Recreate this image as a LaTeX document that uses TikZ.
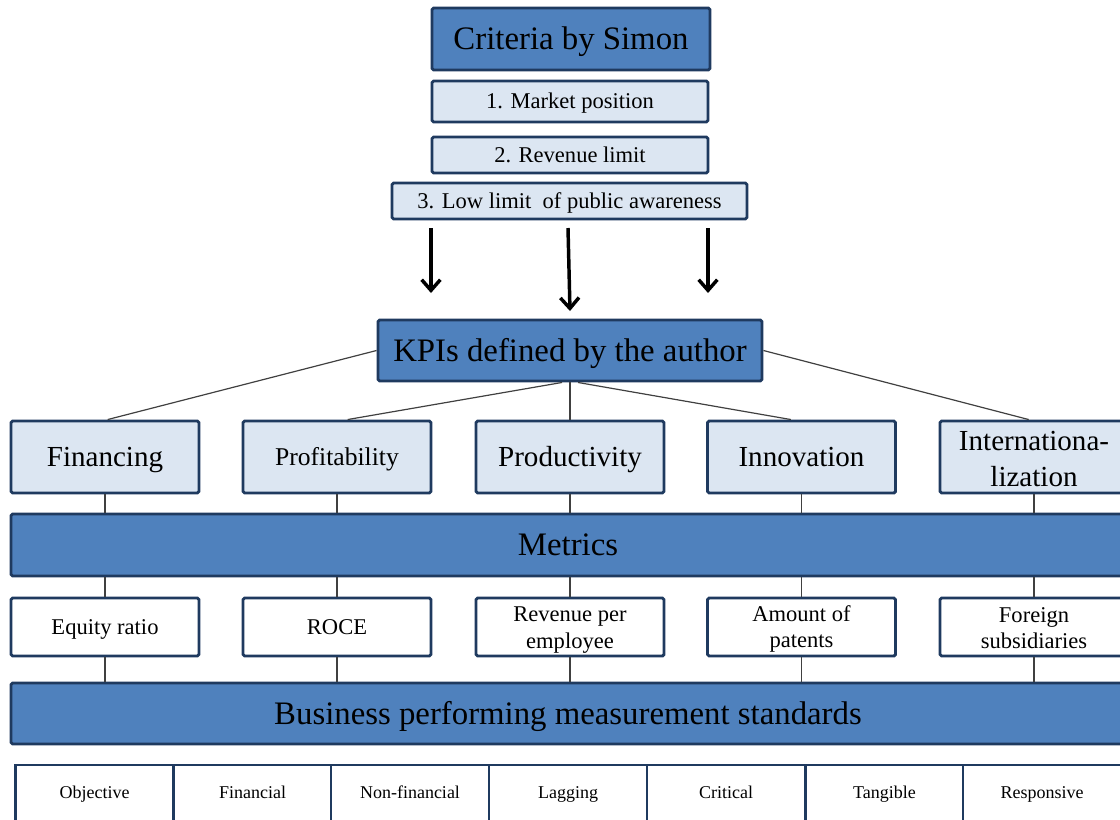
\documentclass[tikz,border=0pt]{standalone}
\usepackage{fontspec}
\setmainfont{Liberation Serif}
\usetikzlibrary{arrows.meta}
\definecolor{barblue}{HTML}{4F81BD}
\definecolor{paleblue}{HTML}{DCE6F2}
\definecolor{edgenavy}{HTML}{1F3A5F}
\definecolor{linkgray}{HTML}{404040}
\newcommand{\fsz}[2]{\fontsize{#1}{#2}\selectfont}

\begin{document}
\begin{tikzpicture}[x=0.75pt,y=-0.75pt,
  box/.style={draw=edgenavy, line width=2.2pt, rounded corners=1.2pt, inner sep=0pt, align=center, text=black},
  oneline/.style={text height=#1, text depth=0pt},
  darkbox/.style={box, fill=barblue, font=\fsz{24.6pt}{29pt}, oneline=16.2pt},
  palebox/.style={box, fill=paleblue},
  plainbox/.style={box, fill=white},
  kpibox/.style={palebox, minimum width=141pt, minimum height=54pt, font=\fsz{21.8pt}{27pt}},
  kpitext/.style={inner sep=0pt, align=center, font=\fsz{21.8pt}{27pt}},
  metricbox/.style={plainbox, minimum width=141pt, minimum height=43.5pt, font=\fsz{16.9pt}{20pt}},
  metrictext/.style={inner sep=0pt, align=center, font=\fsz{16.9pt}{20pt}},
  critbox/.style={palebox, oneline=11.2pt, minimum height=27pt, font=\fsz{16.9pt}{20pt}},
  cellbox/.style={plainbox, oneline=8.9pt, rounded corners=0pt, minimum width=118.5pt, minimum height=42pt, font=\fsz{13.5pt}{16pt}},
  link/.style={draw=linkgray, line width=0.9pt},
  flow/.style={draw=black, line width=2.6pt, -{Straight Barb[length=8pt,width=14pt]}},
]
\useasboundingbox (0,0) rectangle (1120,819);
\clip (0,0) rectangle (1120,819);

% criteria block
\node[darkbox, minimum width=208.5pt, minimum height=46.5pt] (crit) at (571,39) {Criteria by Simon};
\node[critbox, minimum width=207pt, minimum height=30.75pt] (c1) at (570,101.5) {1. Market position};
\node[critbox, minimum width=207pt] (c2) at (570,155) {2. Revenue limit};
\node[critbox, minimum width=266.25pt] (c3) at (569.5,201) {3. Low limit\ \ of public awareness};

% arrows towards the KPI box
\coordinate (a1s) at (431,228); \coordinate (a1e) at (431,293);
\coordinate (a2s) at (568,228); \coordinate (a2e) at (570,311);
\coordinate (a3s) at (708,228); \coordinate (a3e) at (708,293);
\draw[flow] (a1s) -- (a1e);
\draw[flow] (a2s) -- (a2e);
\draw[flow] (a3s) -- (a3e);

\node[darkbox, minimum width=288pt, minimum height=45.75pt] (kpi) at (570,350.5) {KPIs defined by the author};

% KPI categories
\node[kpibox, oneline=14.4pt] (fin) at (105,457) {Financing};
\node[kpibox, oneline=12.7pt, font=\fsz{19.2pt}{24pt}] (prof) at (337,457) {Profitability};
\node[kpibox, oneline=14.4pt] (prod) at (570,457) {Productivity};
\node[kpibox, oneline=14.4pt] (inno) at (801.5,457) {Innovation};
\node[kpibox] (intl) at (1034,457) {};
\node[kpitext] (intlt) at (1034,459) {Internationa-\\lization};

\node[darkbox, minimum width=835.5pt, minimum height=46.5pt] (metrics) at (568,545) {Metrics};

% metrics
\node[metricbox, oneline=11.2pt] (m1) at (105,627) {Equity ratio};
\node[metricbox, oneline=11.2pt] (m2) at (337,627) {ROCE};
\node[metricbox] (m3) at (570,627) {};
\node[metricbox] (m4) at (801.5,627) {};
\node[metricbox] (m5) at (1034,627) {};
\node[metrictext] (m3t) at (570,630) {Revenue per\\employee};
\node[metrictext] (m4t) at (801.5,629) {Amount of\\patents};
\node[metrictext] (m5t) at (1034,628) {Foreign\\subsidiaries};

\node[darkbox, minimum width=835.5pt, minimum height=45.75pt] (bps) at (568,713.5) {Business performing measurement standards};

% measurement standards row
\node[cellbox] (s1) at (94.5,793) {Objective};
\node[cellbox] (s2) at (252.5,793) {Financial};
\node[cellbox] (s3) at (410,793) {Non-financial};
\node[cellbox] (s4) at (568,793) {Lagging};
\node[cellbox] (s5) at (726,793) {Critical};
\node[cellbox] (s6) at (884.5,793) {Tangible};
\node[cellbox] (s7) at (1042,793) {Responsive};

% tree links from the KPI box
\draw[link] (kpi.west) -- ([xshift=2pt]fin.north);
\draw[link] ([xshift=-6pt]kpi.south) -- ([xshift=8pt]prof.north);
\draw[link] (kpi.south) -- (prod.north);
\draw[link] ([xshift=6pt]kpi.south) -- ([xshift=-8pt]inno.north);
\draw[link] (kpi.east) -- ([xshift=-4pt]intl.north);

% vertical links through the bars
\foreach \k/\m in {fin/m1, prof/m2, prod/m3, inno/m4, intl/m5}{
  \draw[link] (\k.south) -- (\k.south |- metrics.north);
  \draw[link] (metrics.south -| \m.north) -- (\m.north);
  \draw[link] (\m.south) -- (\m.south |- bps.north);
}
\end{tikzpicture}
\end{document}
